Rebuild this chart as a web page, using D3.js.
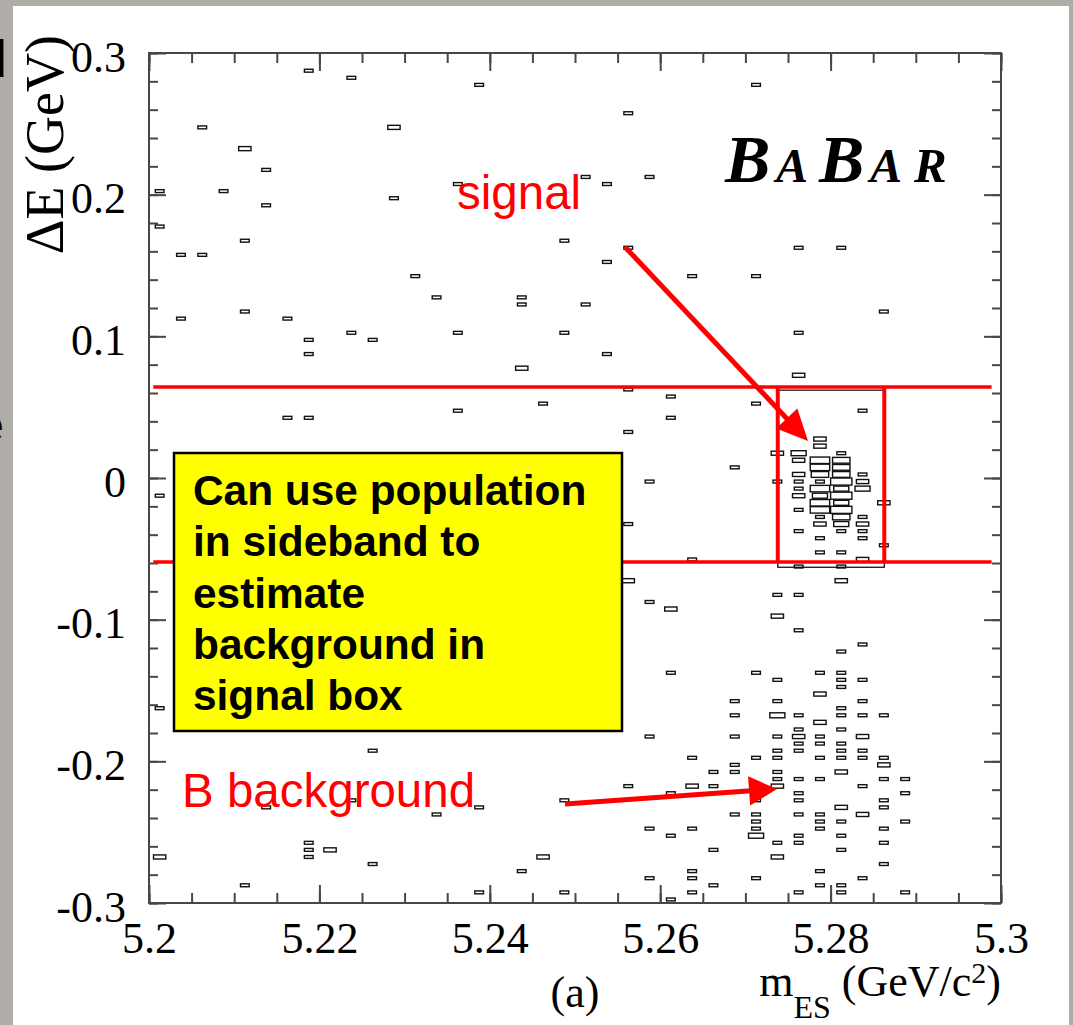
<!DOCTYPE html>
<html>
<head>
<meta charset="utf-8">
<script src="https://cdn.jsdelivr.net/npm/d3@7"></script>
<style>
body{margin:0;background:#b0aca8;}
svg{display:block;}
</style>
</head>
<body>
<script>
// ---- data: [mES (GeV/c^2), deltaE (GeV), entries] per histogram cell ----
var sidebandBoxes=[
  [5.21875,0.2875,1],[5.22375,0.2825,1],[5.23875,0.2775,1],[5.27125,0.2775,1],
  [5.25625,0.2575,1],[5.20625,0.2475,1],[5.22875,0.2475,2],[5.21125,0.2325,2],
  [5.21375,0.2175,1],[5.25125,0.2125,1],[5.25875,0.2125,1],[5.20125,0.2025,1],
  [5.20875,0.2025,1],[5.23625,0.2075,1],[5.25375,0.2075,1],[5.22875,0.1975,1],
  [5.21375,0.1925,1],[5.20125,0.1775,1],[5.21125,0.1675,1],[5.24875,0.1675,1],
  [5.20375,0.1575,1],[5.20625,0.1575,1],[5.25625,0.1625,1],[5.27625,0.1625,1],
  [5.28125,0.1625,1],[5.25375,0.1525,1],[5.23125,0.1425,1],[5.26375,0.1425,1],
  [5.27125,0.1425,1],[5.23375,0.1275,1],[5.24375,0.1275,1],[5.24375,0.1225,1],
  [5.25125,0.1225,1],[5.21125,0.1175,1],[5.28625,0.1175,1],[5.20375,0.1125,1],
  [5.21625,0.1125,1],[5.22375,0.1025,1],[5.23625,0.1025,1],[5.24875,0.1025,1],
  [5.27625,0.1025,1],[5.21875,0.0975,1],[5.22625,0.0975,1],[5.21875,0.0875,1],
  [5.25375,0.0875,1],[5.24375,0.0775,2],[5.27625,0.0725,2],[5.25625,0.0625,1],
  [5.26125,0.0575,1],[5.24625,0.0525,1],[5.27125,0.0525,1],[5.23625,0.0475,1],
  [5.28375,0.0475,1],[5.21625,0.0425,1],[5.21875,0.0425,1],[5.26125,0.0425,1],
  [5.25625,0.0325,1],[5.26875,0.0075,1],[5.25875,-0.0025,1],[5.20125,-0.0125,1],
  [5.25625,-0.0325,1],[5.26375,-0.0575,1],[5.25625,-0.0725,2],[5.28125,-0.0725,2],
  [5.27375,-0.0825,1],[5.27625,-0.0825,1],[5.25875,-0.0875,1],[5.26125,-0.0925,2],
  [5.27375,-0.0975,2],[5.27625,-0.1075,1],[5.28375,-0.1175,1],[5.28125,-0.1225,1],
  [5.26125,-0.1375,1],[5.20125,-0.1625,1],[5.21875,-0.1775,1],[5.25875,-0.1825,1],
  [5.22625,-0.1925,1],[5.26375,-0.1975,1],[5.25625,-0.2175,1],[5.26375,-0.2175,2],
  [5.26125,-0.2225,1],[5.22375,-0.2275,1],[5.24875,-0.2275,1],[5.21375,-0.2325,1],
  [5.23875,-0.2325,1],[5.23375,-0.2375,1],[5.25875,-0.2475,1],[5.26375,-0.2475,1],
  [5.26125,-0.2525,1],[5.21875,-0.2575,1],[5.21875,-0.2625,1],[5.22125,-0.2625,2],
  [5.20125,-0.2675,2],[5.21875,-0.2675,1],[5.24625,-0.2675,2],[5.22625,-0.2725,1],
  [5.24375,-0.2775,1],[5.26375,-0.2775,1],[5.25875,-0.2825,1],[5.26375,-0.2825,1],
  [5.21125,-0.2875,1],[5.23875,-0.2925,1],[5.24875,-0.2925,1],[5.26375,-0.2925,1],
  [5.26125,-0.2975,1]
];

var signalBoxes=[
  [5.27875,0.0275,2],[5.27875,0.0225,2],[5.27375,0.0175,2],[5.27625,0.0175,3],
  [5.28125,0.0175,1],[5.27625,0.0125,2],[5.27875,0.0125,5],[5.28125,0.0125,4],
  [5.27875,0.0075,5],[5.28125,0.0075,4],[5.27625,0.0025,2],[5.27875,0.0025,4],
  [5.28125,0.0025,4],[5.28375,0.0025,1],[5.27375,-0.0025,1],[5.27625,-0.0025,1],
  [5.27875,-0.0025,1],[5.28125,-0.0025,6],[5.28375,-0.0025,2],[5.27625,-0.0075,1],
  [5.27875,-0.0075,5],[5.28125,-0.0075,3],[5.28375,-0.0075,3],[5.27625,-0.0125,2],
  [5.27875,-0.0125,3],[5.28125,-0.0125,6],[5.27875,-0.0175,5],[5.28125,-0.0175,3],
  [5.28625,-0.0175,2],[5.27625,-0.0225,1],[5.27875,-0.0225,5],[5.28125,-0.0225,6],
  [5.27875,-0.0275,1],[5.28125,-0.0275,4],[5.28375,-0.0275,1],[5.27875,-0.0325,2],
  [5.28125,-0.0325,3],[5.28375,-0.0325,2],[5.27625,-0.0375,1],[5.28125,-0.0375,1],
  [5.28375,-0.0375,1],[5.27875,-0.0425,1],[5.28375,-0.0425,1],[5.28625,-0.0475,1],
  [5.27875,-0.0525,1],[5.28125,-0.0525,1],[5.28375,-0.0575,2],[5.27625,-0.0625,1],
  [5.28125,-0.0625,1]
];

var bBackgroundBoxes=[
  [5.26625,-0.2075,1],[5.26625,-0.2175,1],[5.26625,-0.2625,1],[5.26625,-0.2875,1],
  [5.26875,-0.1575,1],[5.26875,-0.1675,1],[5.26875,-0.1825,1],[5.26875,-0.2025,1],
  [5.26875,-0.2075,1],[5.26875,-0.2375,1],
  [5.27125,-0.1375,1],[5.27125,-0.1975,1],[5.27125,-0.2275,1],[5.27125,-0.2375,1],
  [5.27125,-0.2425,1],[5.27125,-0.2475,1],[5.27125,-0.2525,3],[5.27125,-0.2825,1],
  [5.27375,-0.1425,1],[5.27375,-0.1575,1],[5.27375,-0.1675,3],[5.27375,-0.1825,1],
  [5.27375,-0.1925,1],[5.27375,-0.1975,1],[5.27375,-0.2075,1],[5.27375,-0.2125,1],
  [5.27375,-0.2175,2],[5.27375,-0.2575,1],[5.27375,-0.2675,2],
  [5.27625,-0.1675,1],[5.27625,-0.1775,1],[5.27625,-0.1825,2],[5.27625,-0.1875,1],
  [5.27625,-0.1925,1],[5.27625,-0.2125,1],[5.27625,-0.2225,1],[5.27625,-0.2275,1],
  [5.27625,-0.2375,1],[5.27625,-0.2525,1],[5.27625,-0.2575,1],[5.27625,-0.2925,1],
  [5.27875,-0.1375,1],[5.27875,-0.1525,2],[5.27875,-0.1725,2],[5.27875,-0.1825,1],
  [5.27875,-0.1875,1],[5.27875,-0.1975,1],[5.27875,-0.2125,1],[5.27875,-0.2375,1],
  [5.27875,-0.2425,1],[5.27875,-0.2475,1],[5.27875,-0.2775,1],[5.27875,-0.2875,1],
  [5.28125,-0.1375,1],[5.28125,-0.1425,1],[5.28125,-0.1475,1],[5.28125,-0.1625,1],
  [5.28125,-0.1675,1],[5.28125,-0.1775,1],[5.28125,-0.1875,1],[5.28125,-0.1925,1],
  [5.28125,-0.1975,1],[5.28125,-0.2075,2],[5.28125,-0.2325,2],[5.28125,-0.2425,1],
  [5.28125,-0.2525,1],[5.28125,-0.2625,1],[5.28125,-0.2875,1],[5.28125,-0.2925,1],
  [5.28375,-0.1425,1],[5.28375,-0.1575,1],[5.28375,-0.1675,1],[5.28375,-0.1825,2],
  [5.28375,-0.1925,1],[5.28375,-0.1975,1],[5.28375,-0.2175,1],[5.28375,-0.2375,2],
  [5.28375,-0.2825,1],
  [5.28625,-0.1675,1],[5.28625,-0.1975,1],[5.28625,-0.2025,2],[5.28625,-0.2125,1],
  [5.28625,-0.2275,1],[5.28625,-0.2325,1],[5.28625,-0.2475,1],[5.28625,-0.2575,1],
  [5.28625,-0.2725,1],
  [5.28875,-0.2125,1],[5.28875,-0.2225,1],[5.28875,-0.2425,1],[5.28875,-0.2925,1]
];

var xTicks=[5.2,5.22,5.24,5.26,5.28,5.3];
var yTicks=[-0.3,-0.2,-0.1,0,0.1,0.2,0.3];
var xMinor=d3.range(0,21).map(function(i){return 5.2+i*0.005;});
var yMinor=d3.range(0,31).map(function(i){return -0.3+i*0.02;});

// signal box cut and the slide annotations, in (mES, deltaE)
var signalCut={x0:5.2738,x1:5.2863,y0:-0.063,y1:0.062};
var bandLines={x0:5.2005,x1:5.2989,y:[0.0642,-0.0593]};
var signalArrow=[[5.25587,0.1631],[5.27735,0.0261]];
var bkgArrow=[[5.24883,-0.2301],[5.27371,-0.2195]];
var noteLines=["Can use population","in sideband to","estimate","background in","signal box"];

var binW=0.0025,binH=0.005,maxEntries=6;

// ---- page ----
var width=1073,height=1025;
var svg=d3.select("body").append("svg")
    .attr("width",width)
    .attr("height",height);

svg.append("rect").attr("width",width).attr("height",height).attr("fill","#b0aca8");

// fragments of slide text peeking out at the left edge
svg.append("text").attr("x",7).attr("y",77).attr("text-anchor","end")
    .attr("font-family","Liberation Sans").attr("font-size",52).text("d");
svg.append("text").attr("x",4).attr("y",442).attr("text-anchor","end")
    .attr("font-family","Liberation Sans").attr("font-size",48).text("e");

svg.append("rect").attr("x",13).attr("y",6).attr("width",1056).attr("height",height-6).attr("fill","#fff");

var x=d3.scaleLinear().domain([5.2,5.3]).range([149,1001]);
var y=d3.scaleLinear().domain([-0.3,0.3]).range([903,53]);

var axisColor="#474747";
var serif="'Liberation Serif', 'Times New Roman', serif";
var sans="'Liberation Sans', Arial, sans-serif";

function styleAxis(g){
    g.attr("font-family",null).attr("font-size",null);
    g.select(".domain").remove();
    g.selectAll("line").attr("stroke",axisColor).attr("stroke-width",2);
    g.selectAll("text").attr("fill","#000").style("font-family",serif).style("font-size","44px");
}

// minor ticks
svg.append("g").attr("transform","translate(0,903)")
    .call(d3.axisBottom(x).tickValues(xMinor).tickSize(-10).tickFormat(""))
    .call(styleAxis);
svg.append("g").attr("transform","translate(0,53)")
    .call(d3.axisTop(x).tickValues(xMinor).tickSize(-10).tickFormat(""))
    .call(styleAxis);
svg.append("g").attr("transform","translate(149,0)")
    .call(d3.axisLeft(y).tickValues(yMinor).tickSize(-9).tickFormat(""))
    .call(styleAxis);
svg.append("g").attr("transform","translate(1001,0)")
    .call(d3.axisRight(y).tickValues(yMinor).tickSize(-9).tickFormat(""))
    .call(styleAxis);

// major ticks with labels
var gx=svg.append("g").attr("transform","translate(0,903)")
    .call(d3.axisBottom(x).tickValues(xTicks).tickSize(-18)
        .tickFormat(function(d){return d.toFixed(2).replace(/0$/,"");}))
    .call(styleAxis);
gx.selectAll("text").attr("y",50).attr("dy",null);

var gy=svg.append("g").attr("transform","translate(149,0)")
    .call(d3.axisLeft(y).tickValues(yTicks).tickSize(-17)
        .tickFormat(function(d){return d===0?"0":d.toFixed(1);}))
    .call(styleAxis);
gy.selectAll("text").attr("x",-23).attr("dy",18);

svg.append("g").attr("transform","translate(0,53)")
    .call(d3.axisTop(x).tickValues(xTicks).tickSize(-18).tickFormat(""))
    .call(styleAxis);
svg.append("g").attr("transform","translate(1001,0)")
    .call(d3.axisRight(y).tickValues(yTicks).tickSize(-17).tickFormat(""))
    .call(styleAxis);

svg.append("rect")
    .attr("x",x(5.2)).attr("y",y(0.3))
    .attr("width",x(5.3)-x(5.2)).attr("height",y(-0.3)-y(0.3))
    .attr("fill","none").attr("stroke",axisColor).attr("stroke-width",2);

// axis titles
svg.append("text")
    .attr("transform","translate(63,35) rotate(-90)")
    .attr("text-anchor","end")
    .attr("font-family",serif).attr("font-size",54)
    .text("\u0394E (GeV)");

var xt=svg.append("text")
    .attr("x",1001).attr("y",996)
    .attr("text-anchor","end")
    .attr("font-family",serif).attr("font-size",44);
xt.append("tspan").text("m");
xt.append("tspan").attr("font-size",32).attr("dy",22).text("ES");
xt.append("tspan").attr("dy",-22).text(" (GeV/c");
xt.append("tspan").attr("font-size",30).attr("dy",-13).text("2");
xt.append("tspan").attr("dy",13).text(")");

svg.append("text").attr("x",575).attr("y",1007).attr("text-anchor","middle")
    .attr("font-family",serif).attr("font-size",44).text("(a)");

// BABAR logo
var logo=svg.append("text").attr("y",182)
    .attr("font-family",serif).attr("font-weight","bold").attr("font-style","italic");
logo.append("tspan").attr("x",725).attr("font-size",68).text("B");
logo.append("tspan").attr("x",776).attr("font-size",48).text("A");
logo.append("tspan").attr("x",819).attr("font-size",68).text("B");
logo.append("tspan").attr("x",870).attr("font-size",48).text("A");
logo.append("tspan").attr("x",914).attr("font-size",49).text("R");

// histogram boxes: area proportional to entries
var bw=x(5.2+binW)-x(5.2), bh=y(0)-y(binH);
function boxScale(n){return Math.sqrt(n/maxEntries);}
function drawBoxes(data,cls){
    svg.append("g").attr("class",cls)
        .selectAll("rect").data(data).enter().append("rect")
        .attr("x",function(d){return x(d[0])-bw*boxScale(d[2])/2;})
        .attr("y",function(d){return y(d[1])-bh*boxScale(d[2])/2;})
        .attr("width",function(d){return bw*boxScale(d[2]);})
        .attr("height",function(d){return bh*boxScale(d[2]);})
        .attr("fill","none").attr("stroke","#111").attr("stroke-width",1.4);
}
drawBoxes(sidebandBoxes,"sideband");
drawBoxes(signalBoxes,"signal");
drawBoxes(bBackgroundBoxes,"bbkg");

// signal region as drawn on the plot
svg.append("rect")
    .attr("x",x(signalCut.x0)).attr("y",y(signalCut.y1))
    .attr("width",x(signalCut.x1)-x(signalCut.x0))
    .attr("height",y(signalCut.y0)-y(signalCut.y1))
    .attr("fill","none").attr("stroke","#000").attr("stroke-width",1.2);

// red slide annotations
var red="#ff0000";
bandLines.y.forEach(function(v){
    svg.append("line")
        .attr("x1",x(bandLines.x0)).attr("x2",x(bandLines.x1))
        .attr("y1",y(v)).attr("y2",y(v))
        .attr("stroke",red).attr("stroke-width",3.5);
});
[signalCut.x0,signalCut.x1].forEach(function(v){
    svg.append("line")
        .attr("x1",x(v)).attr("x2",x(v))
        .attr("y1",y(bandLines.y[0])).attr("y2",y(bandLines.y[1]))
        .attr("stroke",red).attr("stroke-width",4);
});

function arrow(a,headLen,headHalf){
    var x1=x(a[0][0]),y1=y(a[0][1]),x2=x(a[1][0]),y2=y(a[1][1]);
    var dx=x2-x1,dy=y2-y1,len=Math.sqrt(dx*dx+dy*dy),ux=dx/len,uy=dy/len;
    var bx=x2-ux*headLen,by=y2-uy*headLen;
    svg.append("line").attr("x1",x1).attr("y1",y1).attr("x2",bx+ux*2).attr("y2",by+uy*2)
        .attr("stroke",red).attr("stroke-width",5);
    svg.append("polygon")
        .attr("points",[[x2,y2],[bx-uy*headHalf,by+ux*headHalf],[bx+uy*headHalf,by-ux*headHalf]].join(" "))
        .attr("fill",red);
}
arrow(signalArrow,31,14.5);
arrow(bkgArrow,28,14.7);

svg.append("text").attr("x",457).attr("y",209)
    .attr("font-family",sans).attr("font-size",47.5)
    .attr("fill",red).text("signal");
svg.append("text").attr("x",182).attr("y",807)
    .attr("font-family",sans).attr("font-size",47.5)
    .attr("fill",red).text("B background");

// yellow note
svg.append("rect").attr("x",174).attr("y",453).attr("width",448).attr("height",278)
    .attr("fill","#ffff00").attr("stroke","#000").attr("stroke-width",2.5);
svg.append("g").selectAll("text").data(noteLines).enter().append("text")
    .attr("x",193)
    .attr("y",function(d,i){return 505+i*51.3;})
    .attr("font-family",sans)
    .attr("font-weight","bold").attr("font-size",42.4)
    .text(function(d){return d;});
</script>
</body>
</html>
